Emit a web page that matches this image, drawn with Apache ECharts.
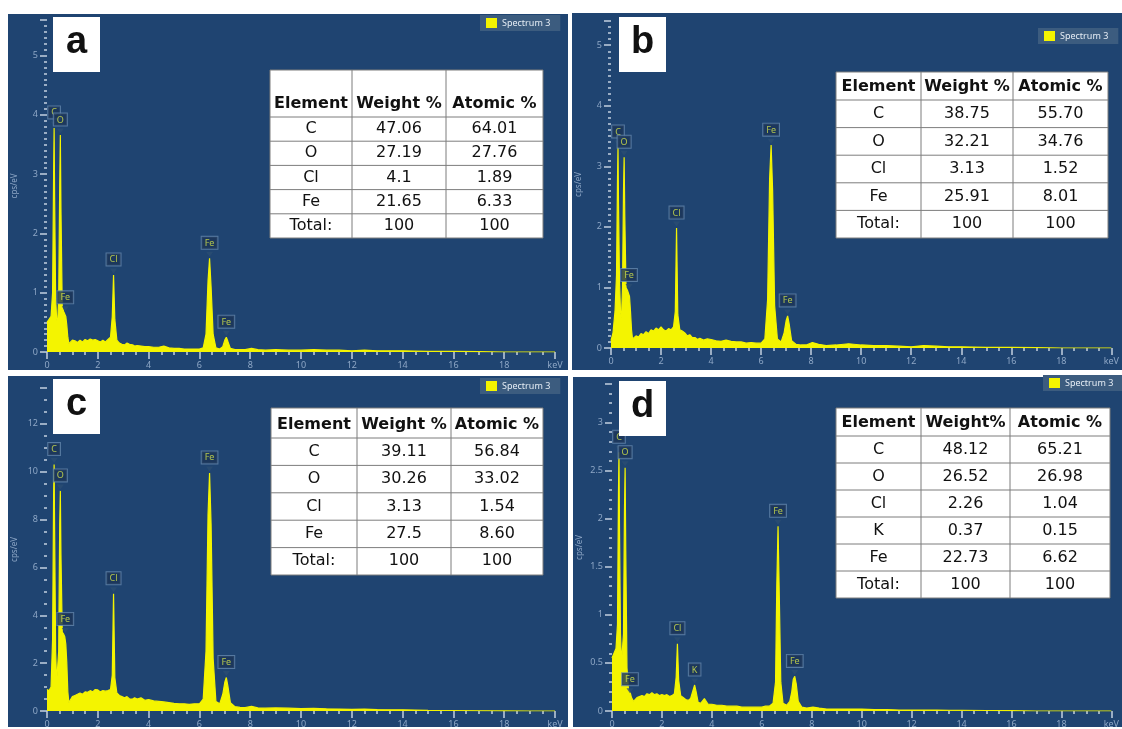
<!DOCTYPE html>
<html>
<head>
<meta charset="utf-8">
<script src="https://cdn.jsdelivr.net/npm/echarts@6/dist/echarts.min.js"></script>
<style>
  html, body { margin: 0; padding: 0; background: #fff; }
  #chart { width: 1122px; height: 729px; }
</style>
</head>
<body>
<div id="chart"></div>
<script>
// energy grid (keV) shared by panels a, b, c
const energy = [0, 0.08, 0.16, 0.22, 0.26, 0.28, 0.30, 0.34, 0.38, 0.42,
  0.46, 0.50, 0.525, 0.55, 0.60, 0.66, 0.70, 0.74, 0.78, 0.82,
  0.86, 0.92, 1.0, 1.1, 1.2, 1.3, 1.4, 1.5, 1.6, 1.7,
  1.8, 1.9, 2.0, 2.1, 2.2, 2.3, 2.4, 2.5, 2.57, 2.62,
  2.67, 2.75, 2.85, 2.95, 3.05, 3.15, 3.25, 3.31, 3.37, 3.45,
  3.55, 3.7, 3.85, 4.0, 4.2, 4.4, 4.6, 4.8, 5.0, 5.2,
  5.4, 5.6, 5.8, 6.0, 6.15, 6.26, 6.34, 6.40, 6.46, 6.54,
  6.65, 6.8, 6.92, 7.0, 7.06, 7.12, 7.22, 7.4, 7.6, 7.8,
  8.05, 8.3, 8.6, 9.0, 9.5, 10.0, 10.5, 11.0, 11.5, 12.0,
  12.5, 13.0, 13.5, 14.0, 15.0, 16.0, 17.0, 18.0, 19.0, 20.0]

// panel d has its Fe peaks drawn a bit further right
const energyD = [0, 0.08, 0.16, 0.22, 0.26, 0.28, 0.30, 0.34, 0.38, 0.42,
  0.46, 0.50, 0.525, 0.55, 0.60, 0.66, 0.70, 0.74, 0.78, 0.82,
  0.86, 0.92, 1.0, 1.1, 1.2, 1.3, 1.4, 1.5, 1.6, 1.7,
  1.8, 1.9, 2.0, 2.1, 2.2, 2.3, 2.4, 2.5, 2.57, 2.62,
  2.67, 2.75, 2.85, 2.95, 3.05, 3.15, 3.25, 3.31, 3.37, 3.45,
  3.55, 3.7, 3.85, 4.0, 4.2, 4.4, 4.6, 4.8, 5.0, 5.2,
  5.4, 5.6, 5.8, 6.0,
  6.15, 6.3, 6.45, 6.55, 6.60, 6.65, 6.70, 6.76, 6.85, 7.0,
  7.12, 7.2, 7.26, 7.32, 7.38, 7.46, 7.6, 7.8, 8.05, 8.3,
  8.6, 9.0, 9.5, 10.0, 10.5, 11.0, 11.5, 12.0, 12.5, 13.0,
  13.5, 14.0, 15.0, 16.0, 17.0, 18.0, 19.0, 20.0]

const countsA = [0.5, 0.55, 0.6, 1.0, 3.0, 3.78, 2.6, 0.9, 0.55, 0.5,
  0.9, 2.8, 3.66, 2.4, 0.75, 0.68, 0.66, 0.6, 0.45, 0.25,
  0.14, 0.12, 0.2, 0.19, 0.16, 0.2, 0.17, 0.21, 0.19, 0.22,
  0.2, 0.21, 0.19, 0.17, 0.2, 0.17, 0.21, 0.25, 0.6, 1.3,
  0.55, 0.2, 0.15, 0.13, 0.12, 0.15, 0.13, 0.11, 0.12, 0.1,
  0.11, 0.1, 0.09, 0.09, 0.08, 0.08, 0.1, 0.07, 0.06, 0.06,
  0.05, 0.05, 0.05, 0.05, 0.07, 0.3, 1.2, 1.58, 1.1, 0.3,
  0.07, 0.05, 0.09, 0.2, 0.25, 0.18, 0.06, 0.04, 0.04, 0.04,
  0.06, 0.04, 0.03, 0.04, 0.03, 0.03, 0.04, 0.03, 0.03, 0.02,
  0.03, 0.02, 0.02, 0.02, 0.01, 0.01, 0.005, 0, 0, 0]

const countsB = [0.12, 0.25, 0.6, 1.2, 2.8, 3.32, 2.4, 1.1, 0.6, 0.5,
  1.0, 2.6, 3.15, 2.2, 1.0, 0.95, 0.93, 0.85, 0.6, 0.3,
  0.15, 0.14, 0.2, 0.18, 0.24, 0.22, 0.27, 0.24, 0.3, 0.28,
  0.33, 0.3, 0.35, 0.3, 0.28, 0.32, 0.3, 0.35, 0.6, 1.98,
  0.55, 0.3, 0.28, 0.25, 0.2, 0.22, 0.17, 0.15, 0.17, 0.14,
  0.16, 0.13, 0.15, 0.14, 0.12, 0.11, 0.13, 0.11, 0.1, 0.1,
  0.08, 0.09, 0.08, 0.08, 0.15, 0.8, 2.8, 3.35, 2.6, 0.7,
  0.15, 0.1, 0.25, 0.45, 0.53, 0.4, 0.12, 0.06, 0.05, 0.05,
  0.09, 0.06, 0.04, 0.05, 0.07, 0.05, 0.04, 0.04, 0.03, 0.02,
  0.04, 0.03, 0.02, 0.02, 0.01, 0.01, 0.005, 0, 0, 0]

const countsC = [0.9, 0.85, 1.0, 3.0, 9.0, 10.3, 7.5, 2.5, 1.2, 1.15,
  2.5, 7.8, 9.2, 6.5, 3.3, 3.2, 3.1, 2.8, 2.0, 0.8,
  0.35, 0.4, 0.6, 0.65, 0.7, 0.75, 0.7, 0.8, 0.78, 0.85,
  0.8, 0.9, 0.88, 0.8, 0.85, 0.83, 0.85, 0.9, 1.5, 4.9,
  1.4, 0.75, 0.65, 0.6, 0.55, 0.6, 0.5, 0.52, 0.5, 0.55,
  0.5, 0.55, 0.45, 0.48, 0.42, 0.4, 0.38, 0.35, 0.32, 0.3,
  0.3, 0.28, 0.3, 0.3, 0.5, 2.5, 8.2, 9.95, 7.8, 2.2,
  0.4, 0.3, 0.7, 1.2, 1.4, 1.05, 0.35, 0.18, 0.15, 0.14,
  0.2, 0.13, 0.12, 0.13, 0.12, 0.1, 0.11, 0.09, 0.08, 0.07,
  0.08, 0.06, 0.05, 0.05, 0.03, 0.02, 0.01, 0.005, 0, 0]

const countsD = [0.55, 0.6, 0.65, 0.9, 2.3, 2.69, 1.9, 0.8, 0.5, 0.48,
  0.8, 2.1, 2.53, 1.7, 0.45, 0.22, 0.2, 0.18, 0.14, 0.12,
  0.1, 0.12, 0.14, 0.15, 0.16, 0.15, 0.18, 0.17, 0.19, 0.17,
  0.18, 0.16, 0.17, 0.16, 0.17, 0.15, 0.16, 0.18, 0.35, 0.7,
  0.32, 0.16, 0.14, 0.12, 0.11, 0.13, 0.22, 0.27, 0.2, 0.09,
  0.08, 0.13, 0.07, 0.07, 0.06, 0.06, 0.05, 0.05, 0.05, 0.04,
  0.04, 0.04, 0.04, 0.04,
  0.05, 0.05, 0.08, 0.3, 1.3, 1.92, 1.2, 0.3, 0.08, 0.06,
  0.1, 0.2, 0.33, 0.36, 0.28, 0.1, 0.04, 0.03, 0.04, 0.03,
  0.02, 0.02, 0.02, 0.02, 0.015, 0.015, 0.01, 0.01, 0.01, 0.01,
  0.008, 0.008, 0.005, 0.003, 0, 0, 0, 0]

// peak markers: [element, keV, cps/eV]
const peaksA = [['C', 0.28, 3.78], ['O', 0.525, 3.66], ['Fe', 0.72, 0.66], ['Cl', 2.62, 1.3], ['Fe', 6.4, 1.58], ['Fe', 7.06, 0.25]]
const peaksB = [['C', 0.28, 3.32], ['O', 0.525, 3.15], ['Fe', 0.72, 0.95], ['Cl', 2.62, 1.98], ['Fe', 6.4, 3.35], ['Fe', 7.06, 0.53]]
const peaksC = [['C', 0.28, 10.3], ['O', 0.525, 9.2], ['Fe', 0.72, 3.2], ['Cl', 2.62, 4.9], ['Fe', 6.4, 9.95], ['Fe', 7.06, 1.4]]
const peaksD = [['C', 0.28, 2.69], ['O', 0.525, 2.53], ['Fe', 0.72, 0.17], ['Cl', 2.62, 0.7], ['K', 3.31, 0.27], ['Fe', 6.65, 1.92], ['Fe', 7.32, 0.36]]

// composition tables
const headA = ['Element', 'Weight %', 'Atomic %']
const rowsA = [['C', '47.06', '64.01'], ['O', '27.19', '27.76'], ['Cl', '4.1', '1.89'], ['Fe', '21.65', '6.33'], ['Total:', '100', '100']]
const headB = ['Element', 'Weight %', 'Atomic %']
const rowsB = [['C', '38.75', '55.70'], ['O', '32.21', '34.76'], ['Cl', '3.13', '1.52'], ['Fe', '25.91', '8.01'], ['Total:', '100', '100']]
const headC = ['Element', 'Weight %', 'Atomic %']
const rowsC = [['C', '39.11', '56.84'], ['O', '30.26', '33.02'], ['Cl', '3.13', '1.54'], ['Fe', '27.5', '8.60'], ['Total:', '100', '100']]
const headD = ['Element', 'Weight%', 'Atomic %']
const rowsD = [['C', '48.12', '65.21'], ['O', '26.52', '26.98'], ['Cl', '2.26', '1.04'], ['K', '0.37', '0.15'], ['Fe', '22.73', '6.62'], ['Total:', '100', '100']]

const panelLetters = ['a', 'b', 'c', 'd']

const bgBlue = '#1f4471'
const tickColor = '#c3d0e0'
const labelColor = '#8ea7c6'

const panels = [
  { letter: panelLetters[0], x: energy, y: countsA, peaks: peaksA, head: headA, rows: rowsA, yMax: 5.6, yStep: 1, ySplit: 10,
    grid: { left: 47, top: 20, width: 508, height: 332 }, bg: [8, 14, 560, 356], box: [53, 17],
    table: { x: 270, y: 70, cols: [82, 94, 97], headH: 47, rowH: 24.2 }, legend: { left: 480, top: 15 } },
  { letter: panelLetters[1], x: energy, y: countsB, peaks: peaksB, head: headB, rows: rowsB, yMax: 5.4, yStep: 1, ySplit: 10,
    grid: { left: 611, top: 21, width: 512, height: 327 }, bg: [572, 13, 550, 357], box: [619, 17],
    table: { x: 836, y: 72, cols: [85, 92, 95], headH: 28, rowH: 27.6 }, legend: { left: 1038, top: 28 } },
  { letter: panelLetters[2], x: energy, y: countsC, peaks: peaksC, head: headC, rows: rowsC, yMax: 13.5, yStep: 2, ySplit: 4,
    grid: { left: 47, top: 388, width: 508, height: 327 }, bg: [8, 376, 560, 351], box: [53, 379],
    table: { x: 271, y: 408, cols: [86, 94, 92], headH: 30, rowH: 27.4 }, legend: { left: 480, top: 378 } },
  { letter: panelLetters[3], x: energyD, y: countsD, peaks: peaksD, head: headD, rows: rowsD, yMax: 3.4, yStep: 0.5, ySplit: 5,
    grid: { left: 612, top: 384, width: 512, height: 331 }, bg: [573, 377, 549, 350], box: [619, 381],
    table: { x: 836, y: 408, cols: [85, 89, 100], headH: 28, rowH: 27 }, legend: { left: 1043, top: 375 } }
]

function textEl(x, y, text, font, z) {
  return {
    type: 'text', x: x, y: y, z: z,
    style: { text: text, font: font, fill: '#111', align: 'center', verticalAlign: 'middle',
      textAlign: 'center', textVerticalAlign: 'middle' }
  }
}

function tableEls(t, head, rows) {
  const els = []
  const total = t.cols.reduce((a, b) => a + b, 0)
  const height = t.headH + rows.length * t.rowH
  els.push({ type: 'rect', z: 50, shape: { x: t.x, y: t.y, width: total, height: height },
    style: { fill: '#fff', stroke: '#7d7d7d', lineWidth: 1 } })
  let cx = t.x
  t.cols.forEach((w, ci) => {
    if (ci > 0) {
      els.push({ type: 'line', z: 51, shape: { x1: cx, y1: t.y, x2: cx, y2: t.y + height }, style: { stroke: '#7d7d7d', lineWidth: 1 } })
    }
    els.push(textEl(cx + w / 2, t.y + t.headH - 13, head[ci], 'bold 16px "DejaVu Sans"', 52))
    rows.forEach((r, ri) => {
      els.push(textEl(cx + w / 2, t.y + t.headH + ri * t.rowH + t.rowH / 2, r[ci], '16px "DejaVu Sans"', 52))
    })
    cx += w
  })
  for (let ri = 0; ri < rows.length; ri++) {
    const yy = t.y + t.headH + ri * t.rowH
    els.push({ type: 'line', z: 51, shape: { x1: t.x, y1: yy, x2: t.x + total, y2: yy }, style: { stroke: '#7d7d7d', lineWidth: 1 } })
  }
  return els
}

const graphics = []
panels.forEach(p => {
  graphics.push({ type: 'rect', z: -1, shape: { x: p.bg[0], y: p.bg[1], width: p.bg[2], height: p.bg[3] }, style: { fill: bgBlue } })
  graphics.push({ type: 'rect', z: 50, shape: { x: p.box[0], y: p.box[1], width: 47, height: 55 }, style: { fill: '#fff' } })
  graphics.push(textEl(p.box[0] + 23.5, p.box[1] + 26, p.letter, 'bold 38px "Liberation Sans"', 52))
  tableEls(p.table, p.head, p.rows).forEach(e => graphics.push(e))
})

const option = {
  backgroundColor: '#fff',
  animation: false,
  grid: panels.map(p => Object.assign({ containLabel: false }, p.grid)),
  legend: panels.map(p => ({
    left: p.legend.left, top: p.legend.top, data: ['Spectrum 3'],
    itemWidth: 11, itemHeight: 10, icon: 'rect', padding: [3, 10, 3, 6],
    backgroundColor: '#3c5c7f', textStyle: { color: '#e6edf5', fontSize: 9, fontFamily: 'Noto Sans' }
  })),
  xAxis: panels.map((p, i) => ({
    type: 'value', gridIndex: i, min: 0, max: 20, interval: 2,
    axisLine: { show: false },
    axisTick: { show: true, length: 7, lineStyle: { color: tickColor, width: 1.5 } },
    minorTick: { show: true, splitNumber: 4, length: 3, lineStyle: { color: tickColor, width: 1.5 } },
    splitLine: { show: false },
    axisLabel: { color: labelColor, fontSize: 9, margin: 9, fontFamily: 'Noto Sans',
      formatter: v => v === 20 ? 'keV' : v }
  })),
  yAxis: panels.map((p, i) => ({
    type: 'value', gridIndex: i, min: 0, max: p.yMax, interval: p.yStep,
    name: 'cps/eV', nameLocation: 'middle', nameGap: 28, nameRotate: 90,
    nameTextStyle: { color: labelColor, fontSize: 8, fontFamily: 'Noto Sans' },
    axisLine: { show: false },
    axisTick: { show: true, length: 7, lineStyle: { color: tickColor, width: 1.5 } },
    minorTick: { show: true, splitNumber: p.ySplit, length: 3, lineStyle: { color: tickColor, width: 1.5 } },
    splitLine: { show: false },
    axisLabel: { color: labelColor, fontSize: 9, margin: 9, showMaxLabel: false, fontFamily: 'Noto Sans' }
  })),
  series: [],
  graphic: { elements: graphics }
}

panels.forEach((p, i) => {
  option.series.push({
    name: 'Spectrum 3', type: 'line', xAxisIndex: i, yAxisIndex: i,
    data: p.x.map((e, k) => [e, p.y[k]]),
    showSymbol: false, smooth: false, z: 3,
    lineStyle: { color: '#f4f400', width: 1.2 },
    itemStyle: { color: '#f4f400' },
    areaStyle: { color: '#f4f400', opacity: 1 }
  })
  option.series.push({
    name: 'peaks', type: 'scatter', xAxisIndex: i, yAxisIndex: i, z: 5,
    data: p.peaks.map(pk => [pk[1], pk[2], pk[0]]),
    symbol: 'triangle', symbolRotate: 180, symbolSize: [7, 5], symbolOffset: [0, -4],
    itemStyle: { color: '#2b4d73' },
    label: {
      show: true, position: 'top', distance: 3,
      formatter: d => d.data[2],
      color: '#d6e64a', fontSize: 9, fontFamily: 'Noto Sans',
      backgroundColor: '#1b3557', borderColor: '#6487ad', borderWidth: 1,
      padding: [2, 3, 1, 3]
    }
  })
})

const chart = echarts.init(document.getElementById('chart'))
chart.setOption(option)
</script>
</body>
</html>
